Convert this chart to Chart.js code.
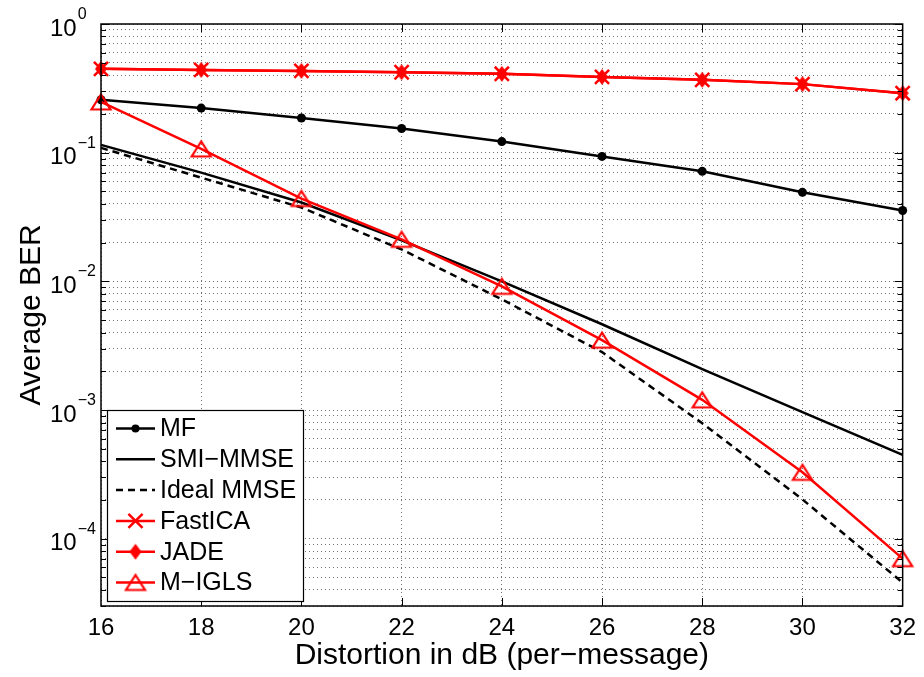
<!DOCTYPE html>
<html>
<head>
<meta charset="utf-8">
<script src="https://cdn.jsdelivr.net/npm/chart.js@4.4.1/dist/chart.umd.min.js"></script>
<style>
  html, body { margin: 0; padding: 0; background: #fff; }
  #wrap { width: 924px; height: 677px; }
</style>
</head>
<body>
<div id="wrap"><canvas id="ber" width="924" height="677"></canvas></div>
<script>
// distortion in dB (per-message)
var distortion = [16, 18, 20, 22, 24, 26, 28, 30, 32];

// average BER for each receiver
var berMF        = [0.258, 0.222, 0.186, 0.154, 0.122, 0.0935, 0.0716, 0.0492, 0.0355];
var berSmiMmse   = [0.115, 0.070, 0.041, 0.0208, 0.0100, 0.00464, 0.00208, 0.000965, 0.000448];
var berIdealMmse = [0.109, 0.064, 0.0375, 0.0177, 0.00725, 0.00282, 0.00079, 0.000202, 0.0000456];
var berFastIca   = [0.448, 0.440, 0.432, 0.422, 0.410, 0.388, 0.368, 0.341, 0.290];
var berJade      = [0.448, 0.440, 0.432, 0.422, 0.410, 0.388, 0.368, 0.341, 0.290];
var berMIgls     = [0.248, 0.107, 0.044, 0.0212, 0.00915, 0.00349, 0.00120, 0.000328, 0.000070];

// axes
var xTicks = [16, 18, 20, 22, 24, 26, 28, 30, 32];
var yDecades = [1, 1e-1, 1e-2, 1e-3, 1e-4];
var yDecadeExp = ['0', '\u22121', '\u22122', '\u22123', '\u22124'];
var yMin = 3e-5, yMax = 1;

var FONT = '"Liberation Sans", Arial, Helvetica, sans-serif';
var RED = '#ff0000';

function pts(arr) {
    return distortion.map(function (x, i) { return { x: x, y: arr[i] }; });
}

// small canvases used as marker shapes (matlab style)
function markerCanvas(w, h, draw) {
    var c = document.createElement('canvas');
    c.width = w; c.height = h;
    draw(c.getContext('2d'));
    return c;
}
var triMarker = markerCanvas(24, 20, function (c) {
    c.strokeStyle = RED; c.lineWidth = 2.2; c.lineJoin = 'miter';
    c.beginPath(); c.moveTo(12, 2.5); c.lineTo(2.5, 17.5); c.lineTo(21.5, 17.5); c.closePath(); c.stroke();
});
var diamondMarker = markerCanvas(14, 18, function (c) {
    c.fillStyle = RED;
    c.beginPath(); c.moveTo(7, 1); c.lineTo(13, 9); c.lineTo(7, 17); c.lineTo(1, 9); c.closePath(); c.fill();
});

// log ticks 1..9 x 10^e inside the range
function logTicks(min, max) {
    var out = [];
    for (var e = -5; e <= 0; e++) {
        for (var m = 1; m <= 9; m++) {
            var v = m * Math.pow(10, e);
            if (v >= min * 0.999 && v <= max * 1.001) out.push({ value: v, major: m === 1 });
        }
    }
    return out;
}

var matlabAxes = {
    id: 'matlabAxes',
    afterDatasetsDraw: function (chart) {
        var ctx = chart.ctx, a = chart.chartArea;
        var xs = chart.scales.x, ys = chart.scales.y;
        ctx.save();
        // inward ticks
        ctx.strokeStyle = '#000';
        ctx.lineWidth = 1;
        ctx.beginPath();
        xs.ticks.forEach(function (t) {
            var px = Math.round(xs.getPixelForValue(t.value)) + 0.5;
            if (px < a.left + 2 || px > a.right - 2) return;
            ctx.moveTo(px, a.bottom); ctx.lineTo(px, a.bottom - 8);
            ctx.moveTo(px, a.top); ctx.lineTo(px, a.top + 8);
        });
        ys.ticks.forEach(function (t) {
            var py = Math.round(ys.getPixelForValue(t.value)) + 0.5;
            var len = t.major ? 8 : 5;
            ctx.moveTo(a.left, py); ctx.lineTo(a.left + len, py);
            ctx.moveTo(a.right, py); ctx.lineTo(a.right - len, py);
        });
        ctx.stroke();
        // box
        ctx.lineWidth = 1.5;
        ctx.strokeRect(a.left, a.top, a.right - a.left, a.bottom - a.top);

        // legend, lower left inside the axes
        var lx = 107.5, ly = 410.5, lw = 196, lh = 191;
        ctx.fillStyle = '#fff';
        ctx.fillRect(lx, ly, lw, lh);
        ctx.lineWidth = 1.2;
        ctx.strokeRect(lx, ly, lw, lh);
        ctx.font = '25px ' + FONT;
        ctx.textBaseline = 'middle';
        ctx.textAlign = 'left';
        chart.data.datasets.forEach(function (ds, i) {
            var y = 428.5 + i * 30.8;
            ctx.save();
            ctx.strokeStyle = ds.borderColor;
            ctx.lineWidth = ds.borderWidth;
            ctx.setLineDash(ds.borderDash || []);
            ctx.beginPath(); ctx.moveTo(116, y); ctx.lineTo(155, y); ctx.stroke();
            ctx.setLineDash([]);
            if (ds.pointRadius > 0) {
                ctx.fillStyle = ds.pointBackgroundColor || ds.borderColor;
                ctx.strokeStyle = ds.pointBorderColor || ds.borderColor;
                ctx.lineWidth = ds.pointBorderWidth || 0;
                Chart.helpers.drawPoint(ctx, {
                    pointStyle: ds.pointStyle, radius: ds.legendRadius || ds.pointRadius,
                    borderWidth: ds.pointBorderWidth || 0, rotation: 0
                }, 135.5, y);
            }
            ctx.restore();
            ctx.fillStyle = '#000';
            ctx.fillText(ds.label, 160, y + 1);
        });
        ctx.restore();
    },
    afterDraw: function (chart) {
        // y tick labels as 10 with a raised exponent
        var ctx = chart.ctx, ys = chart.scales.y;
        ctx.save();
        ctx.fillStyle = '#000';
        ctx.textAlign = 'left';
        ctx.textBaseline = 'alphabetic';
        yDecades.forEach(function (v, i) {
            var py = ys.getPixelForValue(v);
            ctx.font = '24px ' + FONT;
            ctx.fillText('10', 50, py + 11.5);
            var w = ctx.measureText('10').width;
            ctx.font = '16px ' + FONT;
            ctx.fillText(yDecadeExp[i], 50 + w + 1, py - 5);
        });
        ctx.restore();
    }
};

var gridColor = 'rgba(0,0,0,0.55)';

new Chart(document.getElementById('ber').getContext('2d'), {
    type: 'line',
    data: {
        datasets: [
            { label: 'MF', data: pts(berMF), borderColor: '#000', borderWidth: 2.5,
              pointStyle: 'circle', pointRadius: 4.5, legendRadius: 4, pointBackgroundColor: '#000',
              pointBorderColor: '#000', pointBorderWidth: 0, order: 5 },
            { label: 'SMI\u2212MMSE', data: pts(berSmiMmse), borderColor: '#000', borderWidth: 2.5,
              pointRadius: 0, order: 4 },
            { label: 'Ideal MMSE', data: pts(berIdealMmse), borderColor: '#000', borderWidth: 2.5,
              borderDash: [7, 5], pointRadius: 0, order: 3 },
            { label: 'FastICA', data: pts(berFastIca), borderColor: RED, borderWidth: 2.5,
              pointStyle: 'crossRot', pointRadius: 10, pointBorderColor: RED, pointBackgroundColor: RED,
              pointBorderWidth: 2.5, order: 2 },
            { label: 'JADE', data: pts(berJade), borderColor: RED, borderWidth: 2.5,
              pointStyle: diamondMarker, pointRadius: 9, order: 1 },
            { label: 'M\u2212IGLS', data: pts(berMIgls), borderColor: RED, borderWidth: 2.5,
              pointStyle: triMarker, pointRadius: 11, order: 0 }
        ]
    },
    options: {
        responsive: false,
        devicePixelRatio: 1,
        animation: false,
        clip: false,
        layout: { padding: { top: 24, right: 19, left: 0, bottom: 0 } },
        elements: { line: { tension: 0, fill: false } },
        plugins: { legend: { display: false }, tooltip: { enabled: false } },
        scales: {
            x: {
                type: 'linear', min: 16, max: 32,
                afterBuildTicks: function (s) { s.ticks = xTicks.map(function (v) { return { value: v }; }); },
                afterFit: function (s) { s.height = 71; },
                ticks: { font: { family: FONT, size: 24 }, color: '#000', padding: 8, maxRotation: 0, autoSkip: false },
                grid: { color: gridColor, lineWidth: 1, drawTicks: false },
                border: { display: false, dash: [1, 3] },
                title: { display: true, text: 'Distortion in dB (per\u2212message)', color: '#000',
                         font: { family: FONT, size: 30, lineHeight: 1.2 }, padding: { top: 0, bottom: 3 } }
            },
            y: {
                type: 'logarithmic', min: yMin, max: yMax,
                afterBuildTicks: function (s) { s.ticks = logTicks(yMin, yMax); },
                afterFit: function (s) { s.width = 101; },
                ticks: { display: false },
                grid: { color: gridColor, lineWidth: 1, drawTicks: false },
                border: { display: false, dash: [1, 3] },
                title: { display: true, text: 'Average BER', color: '#000',
                         font: { family: FONT, size: 30, lineHeight: 1.2 }, padding: { top: 14, bottom: 0 } }
            }
        }
    },
    plugins: [matlabAxes]
});
</script>
</body>
</html>
